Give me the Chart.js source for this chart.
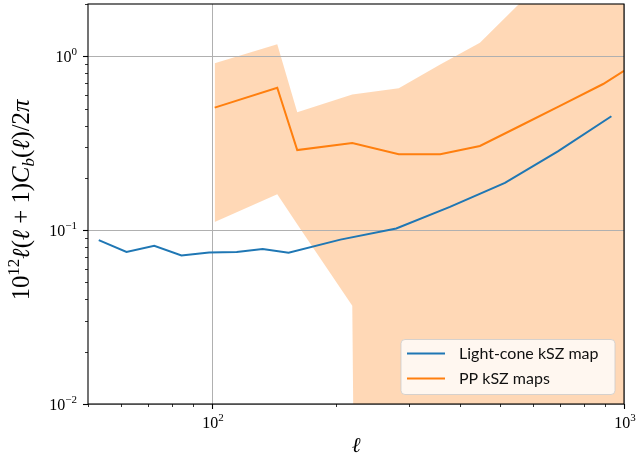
<!DOCTYPE html>
<html>
<head>
<meta charset="utf-8">
<script src="https://cdn.jsdelivr.net/npm/chart.js@4.4.0/dist/chart.umd.min.js"></script>
<style>
  html, body { margin: 0; padding: 0; background: #fff; }
  #wrap { width: 640px; height: 464px; }
</style>
</head>
<body>
<div id="wrap"><canvas id="kszChart" width="640" height="464"></canvas></div>
<script>
// light-cone map spectrum
const lcEll = [53.1, 62.0, 72.4, 84.3, 98.4, 114.8, 132.7, 153.4, 204.9, 280, 378, 514, 691, 932];
const lcPower = [0.0876, 0.0750, 0.0812, 0.0716, 0.0745, 0.0750, 0.0778, 0.0741, 0.0882, 0.1023, 0.136, 0.187, 0.284, 0.452];

// PP maps: mean and spread
const ppEll = [101.5, 144, 161, 219, 284, 358, 447, 562, 707, 890, 1000];
const ppPower = [0.507, 0.660, 0.289, 0.317, 0.273, 0.273, 0.305, 0.400, 0.525, 0.693, 0.826];
const ppUpper = [0.912, 1.172, 0.477, 0.603, 0.655, 0.897, 1.197, 2.05, 3.2, 4.6, 5.5];
// below the axis (non-positive in the original) -> tiny value so the edge drops straight down
const ppLower = [0.1116, 0.161, 0.108, 0.0367, 1e-30, 1e-30, 1e-30, 1e-30, 1e-30, 1e-30, 1e-30];

const xMajor = [100, 1000];
const xMinor = [50, 60, 70, 80, 90, 200, 300, 400, 500, 600, 700, 800, 900];
const yMajor = [0.01, 0.1, 1];
const yMinor = [0.02, 0.03, 0.04, 0.05, 0.06, 0.07, 0.08, 0.09, 0.2, 0.3, 0.4, 0.5, 0.6, 0.7, 0.8, 0.9, 2];
const xTickExp = ["2", "3"];
const yTickExp = ["\u22122", "\u22121", "0"];

const legendLabels = ["Light-cone kSZ map", "PP kSZ maps"];
const BLUE = "#1f77b4";
const ORANGE = "#ff7f0e";
const SERIF = "'Liberation Serif', 'DejaVu Serif', serif";

const pts = (xs, ys) => xs.map((x, i) => ({ x: x, y: ys[i] }));

function drawRuns(ctx, runs, x, y, align) {
  let w = 0;
  runs.forEach(r => { ctx.font = r.font; w += ctx.measureText(r.t).width; });
  let cx = align === "right" ? x - w : align === "center" ? x - w / 2 : x;
  runs.forEach(r => {
    ctx.font = r.font;
    ctx.fillText(r.t, cx, y + (r.dy || 0));
    cx += ctx.measureText(r.t).width;
  });
  return w;
}

function titleRuns(s) {
  const rm = s + "px " + SERIF, it = "italic " + s + "px " + SERIF;
  const sm = Math.round(s * 0.7) + "px " + SERIF, smi = "italic " + Math.round(s * 0.7) + "px " + SERIF;
  return [
    { t: "10", font: rm }, { t: "12", font: sm, dy: -s * 0.42 },
    { t: "\u2113", font: it }, { t: "(", font: rm }, { t: "\u2113", font: it },
    { t: " + 1)", font: rm }, { t: "C", font: it }, { t: "b", font: smi, dy: s * 0.2 },
    { t: "(", font: rm }, { t: "\u2113", font: it }, { t: ")/2", font: rm }, { t: "\u03c0", font: it }
  ];
}

const decorations = {
  id: "decorations",
  afterDraw(chart) {
    const ctx = chart.ctx, a = chart.chartArea;
    const xs = chart.scales.x, ys = chart.scales.y;
    ctx.save();
    ctx.strokeStyle = "#000";
    ctx.fillStyle = "#000";

    // tick marks, outward
    const tick = (p, len, w, horiz) => {
      ctx.lineWidth = w;
      ctx.beginPath();
      if (horiz) { ctx.moveTo(p, a.bottom); ctx.lineTo(p, a.bottom + len); }
      else { ctx.moveTo(a.left, p); ctx.lineTo(a.left - len, p); }
      ctx.stroke();
    };
    xMinor.forEach(v => tick(Math.round(xs.getPixelForValue(v)) + 0.5, 3, 0.8, true));
    xMajor.forEach(v => tick(Math.round(xs.getPixelForValue(v)) + 0.5, 5, 1.1, true));
    yMinor.forEach(v => tick(Math.round(ys.getPixelForValue(v)) + 0.5, 3, 0.8, false));
    yMajor.forEach(v => tick(Math.round(ys.getPixelForValue(v)) + 0.5, 5, 1.1, false));

    // frame
    ctx.lineWidth = 1.1;
    ctx.strokeRect(a.left, a.top, a.right - a.left, a.bottom - a.top);

    // tick labels
    ctx.textBaseline = "alphabetic";
    xMajor.forEach((v, i) => {
      drawRuns(ctx, [{ t: "10", font: "16px " + SERIF }, { t: xTickExp[i], font: "11px " + SERIF, dy: -7 }],
        xs.getPixelForValue(v) + 1, 428, "center");
    });
    yMajor.forEach((v, i) => {
      drawRuns(ctx, [{ t: "10", font: "16px " + SERIF }, { t: yTickExp[i], font: "11px " + SERIF, dy: -7 }],
        77, ys.getPixelForValue(v) + 6, "right");
    });

    // axis titles
    ctx.font = "italic 21px " + SERIF;
    ctx.textAlign = "center";
    ctx.fillText("\u2113", (a.left + a.right) / 2, 452);
    ctx.textAlign = "left";

    let size = 18;
    ctx.save();
    ctx.globalAlpha = 0;
    const w0 = drawRuns(ctx, titleRuns(size), 0, 0, "left");
    ctx.restore();
    size = size * 202 / w0;
    ctx.save();
    ctx.translate(29, (a.top + a.bottom) / 2 - 4);
    ctx.rotate(-Math.PI / 2);
    drawRuns(ctx, titleRuns(size), 0, 0, "center");
    ctx.restore();

    // legend
    const lx = 401, ly = 339.5, lw = 214, lh = 55, r = 4;
    ctx.beginPath();
    ctx.moveTo(lx + r, ly);
    ctx.arcTo(lx + lw, ly, lx + lw, ly + lh, r);
    ctx.arcTo(lx + lw, ly + lh, lx, ly + lh, r);
    ctx.arcTo(lx, ly + lh, lx, ly, r);
    ctx.arcTo(lx, ly, lx + lw, ly, r);
    ctx.closePath();
    ctx.fillStyle = "rgba(255,255,255,0.8)";
    ctx.fill();
    ctx.strokeStyle = "rgba(204,204,204,0.8)";
    ctx.lineWidth = 1;
    ctx.stroke();
    [BLUE, ORANGE].forEach((c, i) => {
      const yy = 353.5 + i * 25;
      ctx.strokeStyle = c;
      ctx.lineWidth = 2;
      ctx.beginPath();
      ctx.moveTo(407, yy);
      ctx.lineTo(445, yy);
      ctx.stroke();
      ctx.fillStyle = "#111";
      ctx.font = "16px Lato, 'DejaVu Sans', sans-serif";
      ctx.fillText(legendLabels[i], 459, 359 + i * 25);
    });
    ctx.restore();
  }
};

const gridColor = majors => c => (c.tick && majors.includes(c.tick.value)) ? "#b0b0b0" : "rgba(0,0,0,0)";

new Chart(document.getElementById("kszChart").getContext("2d"), {
  type: "scatter",
  data: {
    datasets: [
      {
        label: "upper", data: pts(ppEll, ppUpper), showLine: true, fill: "+1",
        backgroundColor: "rgba(255,127,14,0.3)", borderColor: "rgba(0,0,0,0)", borderWidth: 0,
        pointRadius: 0, tension: 0, clip: 0
      },
      {
        label: "lower", data: pts(ppEll, ppLower), showLine: true, fill: false,
        borderColor: "rgba(0,0,0,0)", borderWidth: 0, pointRadius: 0, tension: 0, clip: 0
      },
      {
        label: legendLabels[0], data: pts(lcEll, lcPower), showLine: true,
        borderColor: BLUE, borderWidth: 2, pointRadius: 0, tension: 0
      },
      {
        label: legendLabels[1], data: pts(ppEll, ppPower), showLine: true,
        borderColor: ORANGE, borderWidth: 2, pointRadius: 0, tension: 0
      }
    ]
  },
  options: {
    responsive: false,
    animation: false,
    layout: { padding: { left: 88, right: 16, top: 4, bottom: 60 } },
    plugins: {
      legend: { display: false },
      tooltip: { enabled: false },
      filler: { drawTime: "beforeDraw" }
    },
    scales: {
      x: {
        type: "logarithmic", min: 50, max: 1000, bounds: "data",
        ticks: { display: false },
        afterBuildTicks: s => { s.ticks = xMinor.concat(xMajor).sort((p, q) => p - q).map(v => ({ value: v })); },
        afterFit: s => { s.height = 0; },
        grid: { color: gridColor(xMajor), lineWidth: 1, drawTicks: false },
        border: { display: false }
      },
      y: {
        type: "logarithmic", min: 0.01, max: 2, bounds: "data",
        ticks: { display: false },
        afterBuildTicks: s => { s.ticks = yMinor.concat(yMajor).sort((p, q) => p - q).map(v => ({ value: v })); },
        afterFit: s => { s.width = 0; },
        grid: { color: gridColor(yMajor), lineWidth: 1, drawTicks: false },
        border: { display: false }
      }
    }
  },
  plugins: [decorations]
});
</script>
</body>
</html>
